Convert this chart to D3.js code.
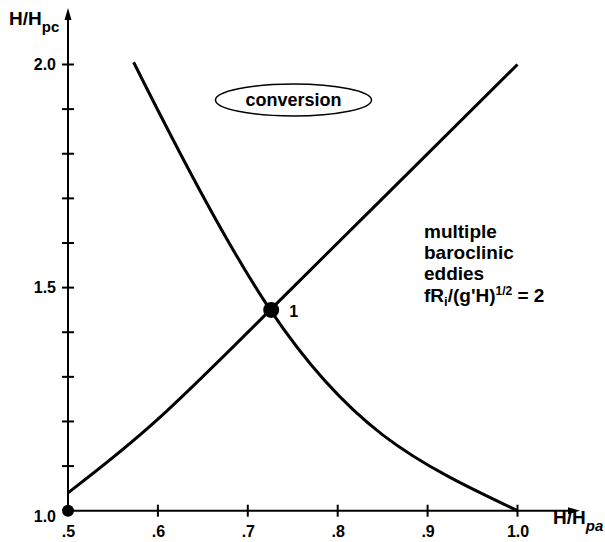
<!DOCTYPE html>
<html>
<head>
<meta charset="utf-8">
<script src="https://cdn.jsdelivr.net/npm/d3@7"></script>
<style>
  html, body { margin: 0; padding: 0; background: #fff; }
  svg { display: block; font-family: "Liberation Sans", Arial, Helvetica, sans-serif; font-weight: bold; }
</style>
</head>
<body>
<svg id="chart" width="605" height="542"></svg>
<script>
// Ratios H/Hpa along the horizontal axis
const xTicks = [0.5, 0.6, 0.7, 0.8, 0.9, 1.0];
const xTickLabels = [".5", ".6", ".7", ".8", ".9", "1.0"];
// Ratios H/Hpc along the vertical axis
const yTicks = [1.0, 1.1, 1.2, 1.3, 1.4, 1.5, 1.6, 1.7, 1.8, 1.9, 2.0];
const yTickLabels = ["1.0", "", "", "", "", "1.5", "", "", "", "", "2.0"];

// Rising boundary curve
const risingX = [0.5, 0.6, 0.725, 0.85, 1.0];
const risingY = [1.04, 1.205, 1.45, 1.70, 2.0];
// Falling boundary curve
const fallingX = [0.573, 0.625, 0.725, 0.85, 1.0];
const fallingY = [2.005, 1.80, 1.45, 1.17, 1.0];

// Marked points
const pointX = [0.5, 0.726];
const pointY = [1.0, 1.45];
const pointR = [6, 8];
const pointLabels = ["", "1"];

const svg = d3.select("#chart");
const x = d3.scaleLinear().domain([0.5, 1.0]).range([68, 517.5]);
const y = d3.scaleLinear().domain([1.0, 2.0]).range([510.7, 64.5]);

const ink = "#000";

// Axes lines with arrowheads
const x0 = x(0.5), y0 = y(1.0);
svg.append("line").attr("x1", x0).attr("y1", y0).attr("x2", 574).attr("y2", y0)
  .attr("stroke", ink).attr("stroke-width", 2);
svg.append("path").attr("d", `M580,${y0} L568,${y0 - 3.5} L568,${y0 + 3.5} Z`).attr("fill", ink);
svg.append("line").attr("x1", x0).attr("y1", y0).attr("x2", x0).attr("y2", 14)
  .attr("stroke", ink).attr("stroke-width", 2);
svg.append("path").attr("d", `M${x0},8 L${x0 - 3.5},20 L${x0 + 3.5},20 Z`).attr("fill", ink);

// Bottom axis: labels through d3.axisBottom, crossing tick marks drawn separately
const xAxis = d3.axisBottom(x).tickValues(xTicks).tickSize(0).tickPadding(15)
  .tickFormat((d, i) => xTickLabels[i]);
const gx = svg.append("g").attr("transform", `translate(0,${y0})`).call(xAxis);
gx.select(".domain").remove();
gx.selectAll("text").attr("font-size", 16).attr("font-weight", "bold")
  .attr("font-family", "Liberation Sans, Arial, sans-serif").attr("fill", ink);
svg.append("g").selectAll("line").data(xTicks.slice(1)).join("line")
  .attr("x1", d => x(d)).attr("x2", d => x(d))
  .attr("y1", y0 - 6).attr("y2", y0 + 6)
  .attr("stroke", ink).attr("stroke-width", 2);

// Left axis
const yAxis = d3.axisLeft(y).tickValues(yTicks).tickSize(0).tickPadding(12)
  .tickFormat((d, i) => yTickLabels[i]);
const gy = svg.append("g").attr("transform", `translate(${x0},0)`).call(yAxis);
gy.select(".domain").remove();
gy.selectAll("text").attr("font-size", 16).attr("font-weight", "bold")
  .attr("font-family", "Liberation Sans, Arial, sans-serif").attr("fill", ink);
gy.selectAll(".tick").filter(d => d === 1.0).select("text").attr("dy", "0.65em");
svg.append("g").selectAll("line").data(yTicks.slice(1)).join("line")
  .attr("x1", x0 - 6).attr("x2", x0 + 6)
  .attr("y1", d => y(d)).attr("y2", d => y(d))
  .attr("stroke", ink).attr("stroke-width", 2);

// Axis titles
const yt = svg.append("text").attr("x", 9).attr("y", 25).attr("font-size", 19).attr("fill", ink);
yt.append("tspan").text("H/H");
yt.append("tspan").attr("dy", 7).attr("font-size", 15).text("pc");

const xt = svg.append("text").attr("x", 553).attr("y", 524).attr("font-size", 19).attr("fill", ink);
xt.append("tspan").text("H/H");
xt.append("tspan").attr("dy", 7).attr("font-size", 15).attr("font-style", "italic").text("pa");

// Curves
const line = d3.line().x(d => x(d[0])).y(d => y(d[1])).curve(d3.curveNatural);
svg.append("path").datum(risingX.map((v, i) => [v, risingY[i]]))
  .attr("d", line).attr("fill", "none").attr("stroke", ink).attr("stroke-width", 3);
svg.append("path").datum(fallingX.map((v, i) => [v, fallingY[i]]))
  .attr("d", line).attr("fill", "none").attr("stroke", ink).attr("stroke-width", 3);

// Points
svg.append("g").selectAll("circle").data(pointX).join("circle")
  .attr("cx", d => x(d)).attr("cy", (d, i) => y(pointY[i])).attr("r", (d, i) => pointR[i])
  .attr("fill", ink);
svg.append("g").selectAll("text").data(pointX).join("text")
  .attr("x", d => x(d) + 18).attr("y", (d, i) => y(pointY[i]) + 7)
  .attr("font-size", 16).attr("fill", ink).text((d, i) => pointLabels[i]);

// Region label in an ellipse
svg.append("ellipse").attr("cx", 293.5).attr("cy", 100).attr("rx", 78).attr("ry", 16)
  .attr("fill", "none").attr("stroke", ink).attr("stroke-width", 1.5);
svg.append("text").attr("x", 293.5).attr("y", 106).attr("text-anchor", "middle")
  .attr("font-size", 18).attr("fill", ink).text("conversion");

// Annotation block
const notes = ["multiple", "baroclinic", "eddies"];
svg.append("g").selectAll("text").data(notes).join("text")
  .attr("x", 424).attr("y", (d, i) => 238 + i * 21)
  .attr("font-size", 19).attr("fill", ink).text(d => d);
const f = svg.append("text").attr("x", 424).attr("y", 302).attr("font-size", 19).attr("fill", ink);
f.append("tspan").text("fR");
f.append("tspan").attr("dy", 4).attr("font-size", 13).text("i");
f.append("tspan").attr("dy", -4).text("/(g'H)");
f.append("tspan").attr("dy", -7).attr("font-size", 12).text("1/2");
f.append("tspan").attr("dy", 7).text(" = 2");
</script>
</body>
</html>
